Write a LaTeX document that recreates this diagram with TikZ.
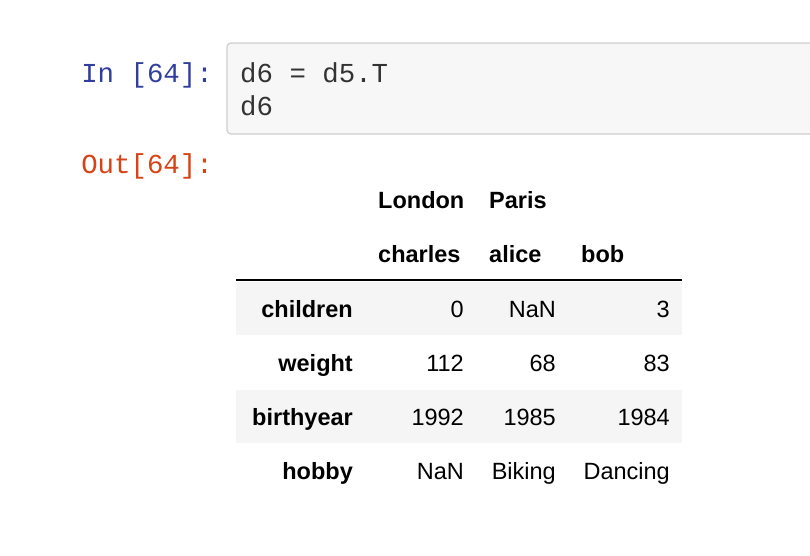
\documentclass[tikz,border=0pt]{standalone}
\usepackage{fontspec}
\setmainfont{Liberation Sans}
\newfontfamily\codefont{Liberation Mono}
\definecolor{promptin}{HTML}{303F9F}
\definecolor{promptout}{HTML}{D84315}
\definecolor{codebg}{HTML}{F7F7F7}
\definecolor{codeborder}{HTML}{CFCFCF}
\definecolor{codetext}{HTML}{333333}
\definecolor{rowbg}{HTML}{F5F5F5}
\tikzset{
  prompt/.style={inner sep=0pt, anchor=base east, font=\codefont\fontsize{27.4}{32}\selectfont},
  codeline/.style={inner sep=0pt, anchor=base west, text=codetext, font=\codefont\fontsize{27.4}{32}\selectfont},
  hdr/.style={inner sep=0pt, anchor=base west, font=\bfseries\fontsize{23.5}{28}\selectfont},
  rowlab/.style={inner sep=0pt, anchor=base east, font=\bfseries\fontsize{23.5}{28}\selectfont},
  cell/.style={inner sep=0pt, anchor=base east, font=\fontsize{23.5}{28}\selectfont},
}
\begin{document}
\begin{tikzpicture}[x=1pt,y=-1pt]
\useasboundingbox[fill=white] (0,0) rectangle (810,556);
% code cell
\draw[codeborder, fill=codebg, line width=1.2pt, rounded corners=4pt] (227,43) rectangle (840,134);
\node[prompt, text=promptin] (inp) at (213,83) {In [64]:};
\node[codeline] (c1) at (240,83) {d6 = d5.T};
\node[codeline] (c2) at (240,116) {d6};
\node[prompt, text=promptout] (outp) at (213,173) {Out[64]:};
% table backgrounds
\fill[rowbg] (236,282) rectangle (682,335);
\fill[rowbg] (236,390) rectangle (682,443);
\draw[black, line width=1.6pt] (236,280) -- (682,280);
% headers
\node[hdr] (hL) at (378,208) {London};
\node[hdr] (hP) at (489,208) {Paris};
\node[hdr] (hc) at (378,262) {charles};
\node[hdr] (ha) at (489,262) {alice};
\node[hdr] (hb) at (581,262) {bob};
% rows
\node[rowlab] (r1) at (353,317) {children};
\node[cell] (r1a) at (464,317) {0};
\node[cell] (r1b) at (556,317) {NaN};
\node[cell] (r1c) at (670,317) {3};
\node[rowlab] (r2) at (353,371) {weight};
\node[cell] (r2a) at (464,371) {112};
\node[cell] (r2b) at (556,371) {68};
\node[cell] (r2c) at (670,371) {83};
\node[rowlab] (r3) at (353,425) {birthyear};
\node[cell] (r3a) at (464,425) {1992};
\node[cell] (r3b) at (556,425) {1985};
\node[cell] (r3c) at (670,425) {1984};
\node[rowlab] (r4) at (353,479) {hobby};
\node[cell] (r4a) at (464,479) {NaN};
\node[cell] (r4b) at (556,479) {Biking};
\node[cell] (r4c) at (670,479) {Dancing};
\end{tikzpicture}
\end{document}
